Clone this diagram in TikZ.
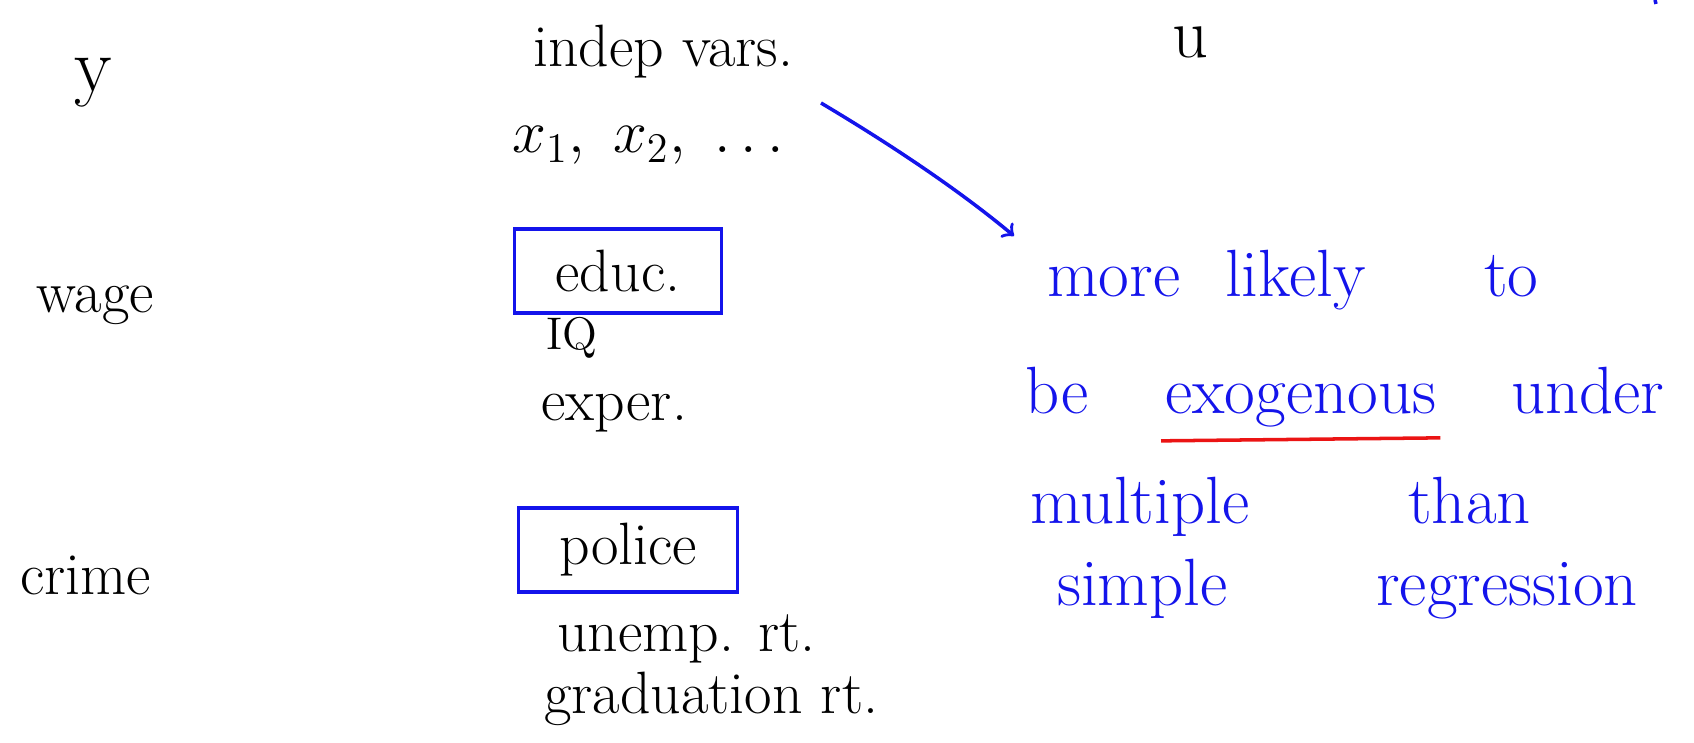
\documentclass[tikz,border=0pt]{standalone}
\usepackage{tikz}
\usepackage{xcolor}
\usetikzlibrary{shapes,arrows,positioning}

\definecolor{penblue}{RGB}{20,20,235}
\definecolor{penred}{RGB}{235,20,20}

\begin{document}
\begin{tikzpicture}[x=0.01cm, y=-0.01cm,
    every node/.style={inner sep=1pt, font=\fontsize{17}{20}\selectfont},
    handtext/.style={anchor=base west},
    bluetext/.style={anchor=base west, text=penblue, font=\fontsize{19}{22}\selectfont},
    boxed/.style={draw=penblue, line width=1pt, minimum height=0.84cm},
    bluepen/.style={draw=penblue, line width=1pt}]
    \useasboundingbox (0,0) rectangle (1694,743);

    % column heads
    \node (yvar) [handtext, font=\fontsize{22}{24}\selectfont] at (70,92) {y};
    \node (indep) [handtext] at (529,67) {indep vars.};
    \node (xvars) [handtext] at (508,153) {$x_1,\ x_2,\ \ldots$};
    \node (uvar) [handtext, font=\fontsize{20}{22}\selectfont] at (1168,58) {u};

    % wage example
    \node (wage) [handtext] at (32,313) {wage};
    \node (educ) [boxed, minimum width=2.07cm] at (618,271) {educ.};
    \node (iq) [handtext, font=\fontsize{13}{15}\selectfont] at (542,350) {IQ};
    \node (exper) [handtext] at (537,421) {exper.};

    % crime example
    \node (crime) [handtext] at (16,594) {crime};
    \node (police) [boxed, minimum width=2.19cm] at (628,550) {police};
    \node (unemp) [handtext] at (553,651) {unemp. rt.};
    \node (grad) [handtext] at (540,713) {graduation rt.};

    % note
    \node (more) [bluetext] at (1043,297) {more};
    \node (likely) [bluetext] at (1221,297) {likely};
    \node (to) [bluetext] at (1480,297) {to};
    \node (be) [bluetext] at (1021,413) {be};
    \node (exo) [bluetext] at (1161,413) {exogenous};
    \node (under) [bluetext] at (1507,413) {under};
    \node (multiple) [bluetext] at (1026,524) {multiple};
    \node (than) [bluetext] at (1404,524) {than};
    \node (simple) [bluetext] at (1053,605) {simple};
    \node (regr) [bluetext] at (1372,605) {regression};

    \coordinate (arrowstart) at (821,103);
    \coordinate (arrowend) at (1014,236);
    \draw[bluepen, ->] (arrowstart) .. controls (900,150) and (965,195) .. (arrowend);
    \draw[draw=penred, line width=1pt] ([yshift=-0.1cm]exo.south west) -- ([yshift=-0.07cm]exo.south east);
    \draw[bluepen] (1655,0) -- (1656,4);
\end{tikzpicture}
\end{document}
